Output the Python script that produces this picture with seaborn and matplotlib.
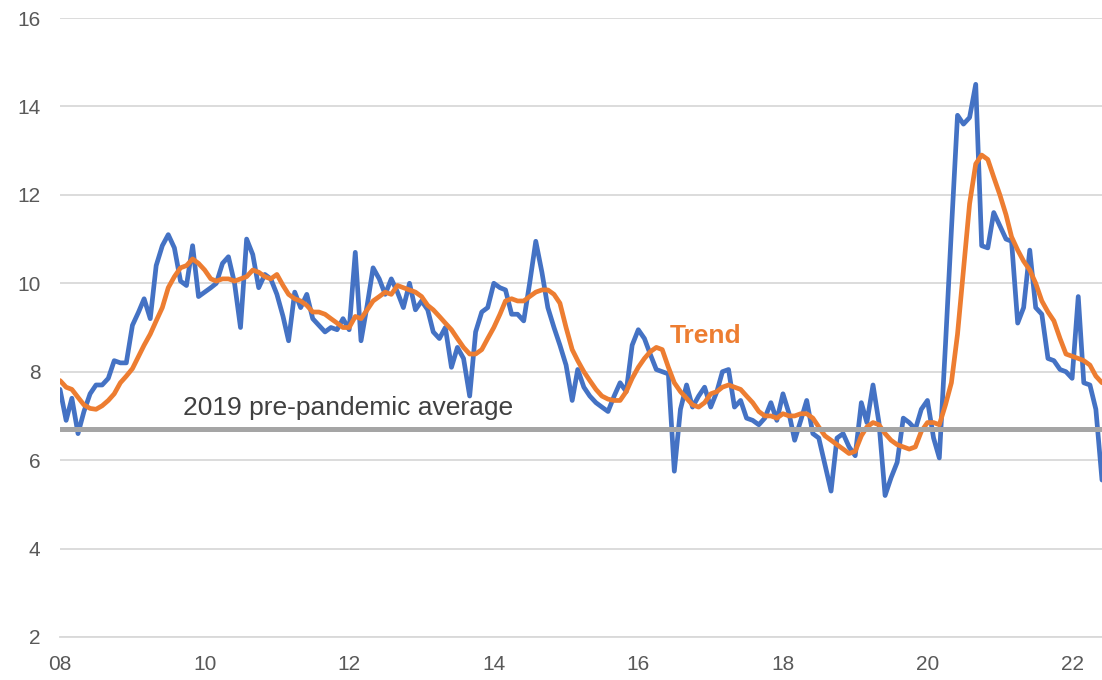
import numpy as np
import pandas as pd
import matplotlib.pyplot as plt
import seaborn as sns

# monthly series, Jan 2008 onwards
claims = [
    7.6, 6.9, 7.4, 6.6, 7.1, 7.5, 7.7, 7.7, 7.85, 8.25, 8.2, 8.2,
    9.05, 9.35, 9.65, 9.2, 10.4, 10.85, 11.1, 10.8, 10.05, 9.95, 10.85, 9.7,
    9.8, 9.9, 10.0, 10.45, 10.6, 10.0, 9.0, 11.0, 10.65, 9.9, 10.2, 10.1,
    9.75, 9.25, 8.7, 9.8, 9.45, 9.75, 9.2, 9.05, 8.9, 9.0, 8.95, 9.2,
    8.95, 10.7, 8.7, 9.5, 10.35, 10.1, 9.75, 10.1, 9.8, 9.45, 10.0, 9.4,
    9.6, 9.4, 8.9, 8.75, 9.0, 8.1, 8.55, 8.3, 7.45, 8.9, 9.35, 9.45,
    10.0, 9.9, 9.85, 9.3, 9.3, 9.15, 10.0, 10.95, 10.25, 9.45, 9.0, 8.6,
    8.15, 7.35, 8.05, 7.65, 7.45, 7.3, 7.2, 7.1, 7.45, 7.75, 7.55, 8.6,
    8.95, 8.75, 8.4, 8.05, 8.0, 7.95, 5.75, 7.15, 7.7, 7.2, 7.45, 7.65,
    7.2, 7.55, 8.0, 8.05, 7.2, 7.35, 6.95, 6.9, 6.8, 6.95, 7.3, 6.9,
    7.5, 7.05, 6.45, 6.9, 7.35, 6.6, 6.5, 5.9, 5.3, 6.5, 6.6, 6.3,
    6.1, 7.3, 6.85, 7.7, 6.85, 5.2, 5.6, 5.95, 6.95, 6.85, 6.7, 7.15,
    7.35, 6.5, 6.05, 8.6, 11.2, 13.8, 13.6, 13.75, 14.5, 10.85, 10.8, 11.6,
    11.3, 11.0, 10.95, 9.1, 9.45, 10.75, 9.45, 9.3, 8.3, 8.25, 8.05, 8.0,
    7.85, 9.7, 7.75, 7.7, 7.15, 5.55,
]
trend = [
    7.8, 7.65, 7.6, 7.42, 7.25, 7.17, 7.15, 7.23, 7.35, 7.5, 7.75, 7.9,
    8.07, 8.35, 8.6, 8.85, 9.15, 9.45, 9.9, 10.15, 10.35, 10.4, 10.55, 10.45,
    10.3, 10.1, 10.05, 10.1, 10.1, 10.05, 10.1, 10.15, 10.3, 10.25, 10.15, 10.1,
    10.2, 9.95, 9.75, 9.65, 9.6, 9.5, 9.35, 9.35, 9.3, 9.2, 9.1, 9.0,
    9.0, 9.25, 9.2, 9.4, 9.6, 9.7, 9.8, 9.75, 9.95, 9.9, 9.85, 9.8,
    9.7, 9.5, 9.4, 9.25, 9.1, 8.95, 8.75, 8.55, 8.4, 8.4, 8.5, 8.75,
    9.0, 9.3, 9.6, 9.65, 9.6, 9.6, 9.7, 9.8, 9.85, 9.85, 9.75, 9.55,
    9.0, 8.5, 8.25, 8.0, 7.8, 7.6, 7.45, 7.38, 7.35, 7.35, 7.55, 7.85,
    8.1, 8.3, 8.45, 8.55, 8.5, 8.1, 7.75, 7.55, 7.4, 7.25, 7.2, 7.3,
    7.5, 7.55, 7.65, 7.7, 7.65, 7.6, 7.45, 7.3, 7.1, 7.0, 7.0, 6.95,
    7.05, 7.0, 7.0, 7.05, 7.05, 6.95, 6.75, 6.55, 6.45, 6.35, 6.25, 6.15,
    6.2, 6.55, 6.75, 6.85, 6.8, 6.6, 6.45, 6.35, 6.3, 6.25, 6.3, 6.65,
    6.85, 6.85, 6.8, 7.25, 7.75, 8.85, 10.3, 11.8, 12.7, 12.9, 12.8, 12.4,
    12.0, 11.55, 11.05, 10.75, 10.5, 10.3, 10.0, 9.6, 9.35, 9.15, 8.75, 8.4,
    8.35, 8.3, 8.25, 8.15, 7.9, 7.75,
]
pre_pandemic_avg = 6.7
year_ticks = ["08", "10", "12", "14", "16", "18", "20", "22"]

dates = pd.date_range("2008-01-01", periods=len(claims), freq="MS")
df = pd.DataFrame({"date": dates, "claims": claims, "trend": trend})

sns.set_theme(style="white")
plt.rcParams["font.family"] = ["Liberation Sans", "DejaVu Sans"]

BLUE = "#4472C4"
ORANGE = "#ED7D31"
GRID = "#D9D9D9"
TXT = "#595959"

fig = plt.figure(figsize=(11.02, 6.8), dpi=100)
ax = fig.add_axes([60 / 1102, 1 - 637 / 680, 1042 / 1102, 619 / 680])

sns.lineplot(data=df, x="date", y="claims", ax=ax, color=BLUE, lw=3.4, zorder=3)
sns.lineplot(data=df, x="date", y="trend", ax=ax, color=ORANGE, lw=3.4, zorder=4)
ax.axhline(pre_pandemic_avg, color="#A5A5A5", lw=3.6, zorder=5)

ax.set_ylim(2, 16)
ax.set_yticks(np.arange(2, 17, 2))
ax.set_xlim(dates[0], dates[-1])
tick_dates = pd.to_datetime(["20" + t + "-01-01" for t in year_ticks])
ax.set_xticks(tick_dates)
ax.set_xticklabels(year_ticks)

ax.yaxis.grid(True, color=GRID, lw=1.3)
ax.set_axisbelow(True)
for s in ["top", "right", "left"]:
    ax.spines[s].set_visible(False)
ax.spines["bottom"].set_color(GRID)
ax.spines["bottom"].set_linewidth(1.3)

ax.tick_params(axis="y", length=0, pad=14, labelsize=15, labelcolor=TXT)
ax.tick_params(axis="x", direction="in", length=4, width=1, color=GRID,
               pad=13, labelsize=15, labelcolor=TXT)
ax.set_xlabel("")
ax.set_ylabel("")

ax.text(pd.Timestamp("2009-09-15"), 7.17, "2019 pre-pandemic average",
        fontsize=19, color="#404040", va="center", ha="left")
ax.text(pd.Timestamp("2016-06-10"), 8.8, "Trend", fontsize=19,
        fontweight="bold", color=ORANGE, va="center", ha="left")

fig.savefig("out.png", dpi=100)
